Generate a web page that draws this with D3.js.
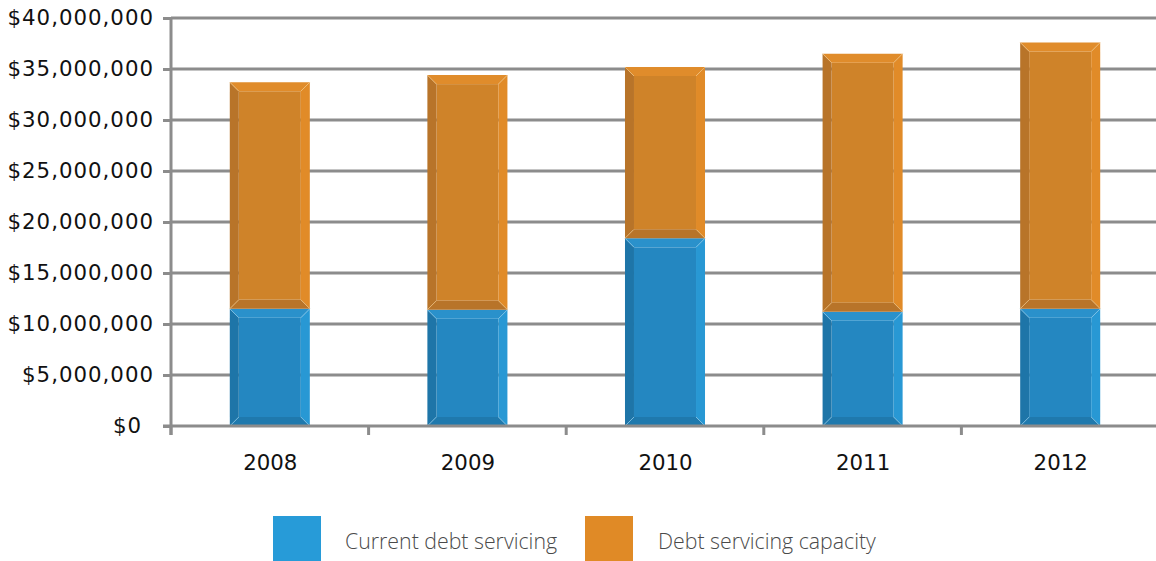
<!DOCTYPE html>
<html>
<head>
<meta charset="utf-8">
<script src="https://cdn.jsdelivr.net/npm/d3@7"></script>
<style>
  html, body { margin: 0; padding: 0; background: #fff; }
  svg { display: block; }
</style>
</head>
<body>
<svg id="chart" width="1156" height="561"></svg>
<script>
// Yearly debt servicing figures (dollars)
const years = ["2008", "2009", "2010", "2011", "2012"];
const currentDebt = [11500000, 11400000, 18400000, 11200000, 11500000];
const servicingCapacity = [22200000, 23000000, 16800000, 25300000, 26100000];
const yTicks = [0, 5000000, 10000000, 15000000, 20000000, 25000000, 30000000, 35000000, 40000000];
const seriesNames = ["Current debt servicing", "Debt servicing capacity"];

const W = 1156, H = 561;
const margin = { left: 171, right: -3, top: 18, bottom: 135 };
const svg = d3.select("#chart");

const x = d3.scaleBand()
  .domain(years)
  .range([margin.left, W - margin.right])
  .paddingInner(0.595)
  .paddingOuter(0.2975);

const y = d3.scaleLinear()
  .domain([0, 40000000])
  .range([H - margin.bottom, margin.top]);

// palette: face, bevel sides, corner highlight, legend swatch
const palettes = [
  { face: "#2487c1", left: "#1e75a8", right: "#2898d4", top: "#2a91cb", bottom: "#1f79ad", hi: "#8fcdee", legend: "#279bd8" },
  { face: "#cf8329", left: "#b87429", right: "#e18b28", top: "#e08c2b", bottom: "#b87429", hi: "#f3c684", legend: "#e08a26" }
];

// gridlines
svg.append("g")
  .selectAll("line")
  .data(yTicks.slice(1))
  .join("line")
  .attr("x1", margin.left)
  .attr("x2", W)
  .attr("y1", d => y(d))
  .attr("y2", d => y(d))
  .attr("stroke", "#8c8c8c")
  .attr("stroke-width", 3);

// y axis
const yAxis = svg.append("g")
  .attr("transform", `translate(${margin.left},0)`)
  .call(d3.axisLeft(y).tickValues(yTicks).tickSize(8).tickPadding(9)
    .tickFormat(d => "$" + d3.format(",")(d)));
yAxis.select(".domain").attr("stroke", "#8c8c8c").attr("stroke-width", 3)
  .attr("d", `M0,${y(0) + 9}V${margin.top}`);
yAxis.selectAll(".tick line").attr("stroke", "#8c8c8c").attr("stroke-width", 3);
yAxis.selectAll("text")
  .attr("fill", "#111")
  .attr("dx", d => d === 0 ? -12 : 0)
  .style("font-family", "DejaVu Sans")
  .style("font-size", "21.3px")
  .style("letter-spacing", "1px");

// stacked segments
const stackData = years.map((yr, i) => ({ year: yr, a: currentDebt[i], b: servicingCapacity[i] }));
const stack = d3.stack().keys(["a", "b"])(stackData);

const bevel = 9;
function bevelPaths(x0, y0, w, h) {
  const b = Math.min(bevel, h / 2, w / 2);
  const x1 = x0 + w, y1 = y0 + h;
  const pts = a => "M" + a.map(p => p.join(",")).join("L") + "Z";
  return {
    top: pts([[x0, y0], [x1, y0], [x1 - b, y0 + b], [x0 + b, y0 + b]]),
    bottom: pts([[x0, y1], [x1, y1], [x1 - b, y1 - b], [x0 + b, y1 - b]]),
    left: pts([[x0, y0], [x0 + b, y0 + b], [x0 + b, y1 - b], [x0, y1]]),
    right: pts([[x1, y0], [x1 - b, y0 + b], [x1 - b, y1 - b], [x1, y1]]),
    face: [x0 + b, y0 + b, w - 2 * b, h - 2 * b],
    diag: [
      [[x0, y0], [x0 + b, y0 + b]], [[x1, y0], [x1 - b, y0 + b]],
      [[x0, y1], [x0 + b, y1 - b]], [[x1, y1], [x1 - b, y1 - b]]
    ]
  };
}

const barsG = svg.append("g");
stack.forEach((layer, si) => {
  const pal = palettes[si];
  layer.forEach(seg => {
    const x0 = x(seg.data.year);
    const w = x.bandwidth();
    const yTop = y(seg[1]);
    const h = y(seg[0]) - yTop;
    const p = bevelPaths(x0, yTop, w, h);
    const g = barsG.append("g");
    g.append("rect").attr("x", p.face[0]).attr("y", p.face[1])
      .attr("width", p.face[2]).attr("height", p.face[3]).attr("fill", pal.face);
    g.append("path").attr("d", p.left).attr("fill", pal.left);
    g.append("path").attr("d", p.right).attr("fill", pal.right);
    g.append("path").attr("d", p.top).attr("fill", pal.top);
    g.append("path").attr("d", p.bottom).attr("fill", pal.bottom);
    p.diag.forEach(d => {
      g.append("line")
        .attr("x1", d[0][0]).attr("y1", d[0][1])
        .attr("x2", d[1][0]).attr("y2", d[1][1])
        .attr("stroke", pal.hi).attr("stroke-width", 0.8).attr("opacity", 0.8);
    });
  });
});

// x axis with ticks on band boundaries
const xAxisY = y(0);
const xAxis = svg.append("g").attr("transform", `translate(0,${xAxisY})`);
xAxis.append("line")
  .attr("x1", margin.left - 8).attr("x2", W)
  .attr("stroke", "#8c8c8c").attr("stroke-width", 3);
const gap = (x.step() - x.bandwidth()) / 2;
xAxis.selectAll("line.tk")
  .data(years)
  .join("line")
  .attr("class", "tk")
  .attr("x1", d => x(d) - gap).attr("x2", d => x(d) - gap)
  .attr("y1", 0).attr("y2", 9)
  .attr("stroke", "#8c8c8c").attr("stroke-width", 3);
xAxis.selectAll("text")
  .data(years)
  .join("text")
  .attr("x", d => x(d) + x.bandwidth() / 2 + 0.5)
  .attr("y", 44)
  .attr("text-anchor", "middle")
  .attr("fill", "#111")
  .style("font-family", "DejaVu Sans")
  .style("font-size", "21.3px")
  .text(d => d);

// legend
const legendItems = [
  { name: seriesNames[0], color: palettes[0].legend, sx: 273, tx: 345 },
  { name: seriesNames[1], color: palettes[1].legend, sx: 585, tx: 658 }
];
const legend = svg.append("g");
legendItems.forEach(it => {
  legend.append("rect").attr("x", it.sx).attr("y", 516)
    .attr("width", 48).attr("height", 45).attr("fill", it.color);
  legend.append("text").attr("x", it.tx).attr("y", 549)
    .attr("fill", "#4a4a4a")
    .style("font-family", "Open Sans")
    .style("font-weight", 300)
    .style("font-size", "21.3px")
    .text(it.name);
});
</script>
</body>
</html>
